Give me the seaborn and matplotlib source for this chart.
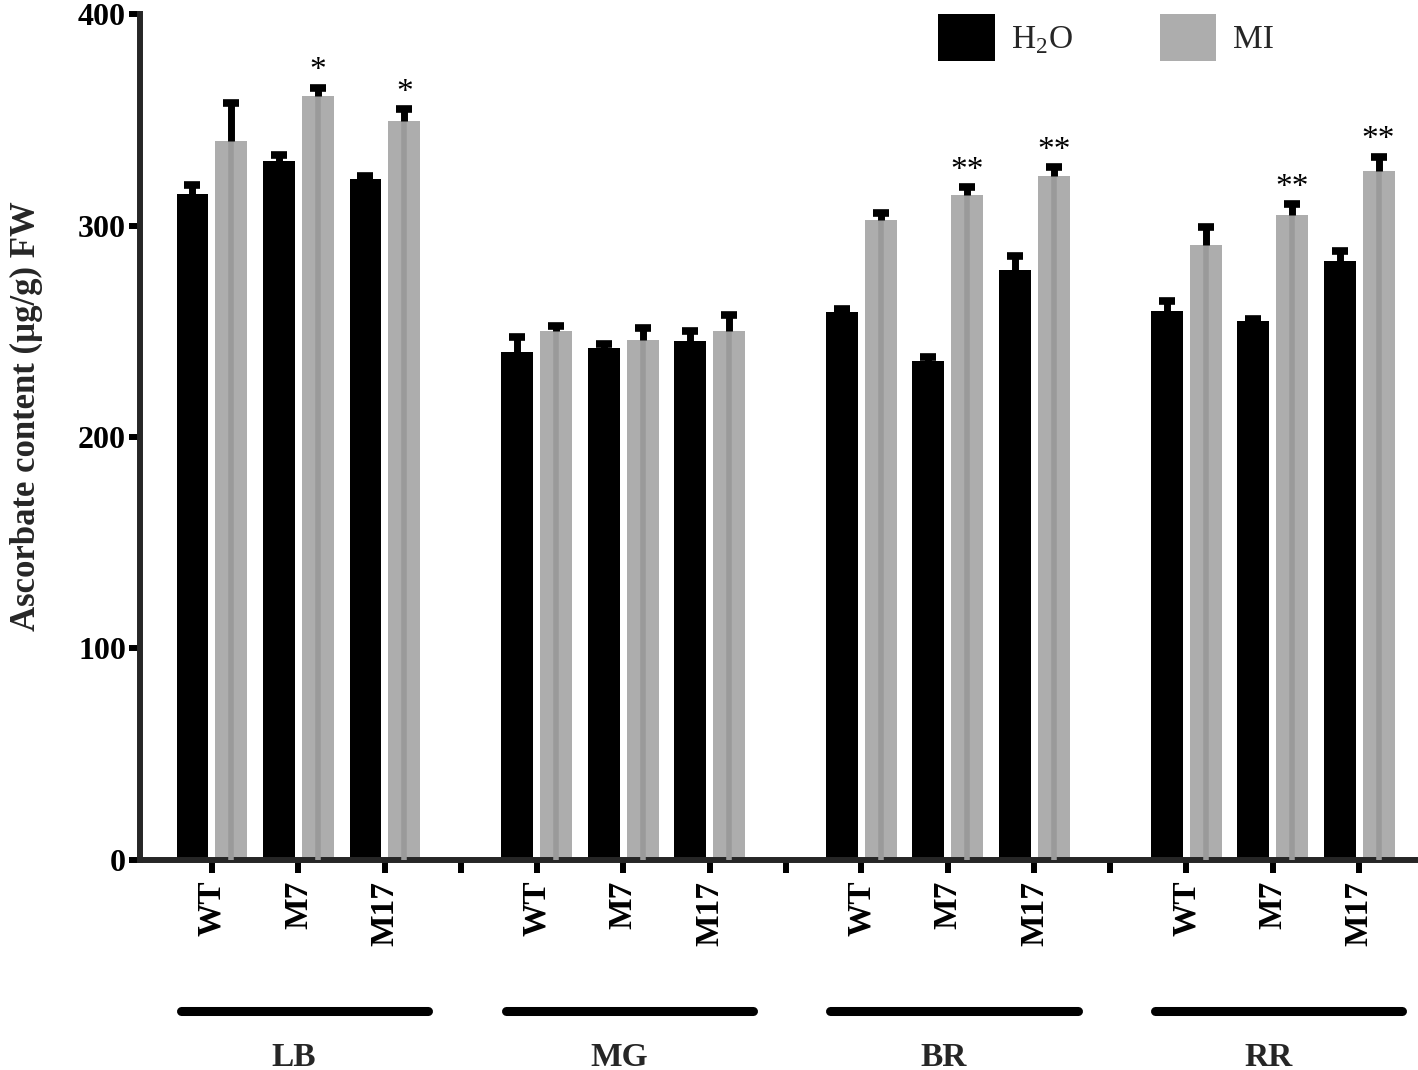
import numpy as np
import pandas as pd
import matplotlib
matplotlib.use("Agg")
import matplotlib.pyplot as plt
import seaborn as sns
from matplotlib.patches import Patch

# ------------------ DATA ------------------
stages = ["LB", "MG", "BR", "RR"]
lines = ["WT", "M7", "M17"]
treatments = ["H2O", "MI"]

h2o_mean = [315, 330.5, 322, 240, 242, 245.5, 259, 236, 279, 259.5, 255, 283]
h2o_err = [4, 3, 1.5, 7.5, 2, 4.5, 1.5, 2, 6.5, 5, 1, 5]
mi_mean = [340, 361, 349.5, 250, 246, 250, 302.5, 314.5, 323.5, 291, 305, 326]
mi_err = [18, 4, 5.5, 2.5, 5.5, 7.5, 3.5, 3.5, 4, 8.5, 5, 6.5]
stars = ["", "*", "*", "", "", "", "", "**", "**", "", "**", "**"]

y_ticks = [0, 100, 200, 300, 400]

# ------------------ LAYOUT ------------------
GROUP_STEP = 3.754          # distance between stage groups (in genotype steps)
pos = np.array([g * GROUP_STEP + i for g in range(len(stages)) for i in range(len(lines))])
seps = [(g + 1) * GROUP_STEP - (GROUP_STEP - 2) / 2 for g in range(len(stages) - 1)]
OFF = 0.225

df = pd.DataFrame({
    "x": np.concatenate([pos, pos]),
    "value": h2o_mean + mi_mean,
    "treatment": ["H2O"] * len(pos) + ["MI"] * len(pos),
})

sns.set_theme(style="ticks")
plt.rcParams["font.family"] = ["Liberation Serif", "DejaVu Serif"]
plt.rcParams["mathtext.fontset"] = "custom"
plt.rcParams["mathtext.rm"] = "Liberation Serif"

BLACK = "#000000"
GRAY = "#adadad"
STRIPE = "#9a9a9a"

fig = plt.figure(figsize=(14.18, 10.70), dpi=100)
ax = fig.add_axes([0.0987, 0.1963, 0.8993, 0.7906])

sns.barplot(data=df, x="x", y="value", hue="treatment", hue_order=treatments,
            native_scale=True, dodge=True, width=0.9, gap=0.18,
            palette={"H2O": BLACK, "MI": GRAY}, saturation=1,
            errorbar=None, legend=False, linewidth=0, ax=ax)

# darker stripe in the middle of the MI bars
ax.vlines(pos + OFF, 0, mi_mean, color=STRIPE, lw=4, zorder=3)

# upper error bars only
zeros = np.zeros(len(pos))
for xs, m, e in [(pos - OFF, h2o_mean, h2o_err), (pos + OFF, mi_mean, mi_err)]:
    _, caps, _ = ax.errorbar(xs, m, yerr=[zeros, e], fmt="none", ecolor="black",
                             elinewidth=5, capsize=6, capthick=5.5, zorder=4)
    caps[0].set_visible(False)   # no cap at the bar top

# significance stars
for x, m, e, s in zip(pos + OFF, mi_mean, mi_err, stars):
    if s:
        ax.text(x, m + e + 8, s, ha="center", va="center", fontsize=24, color="black")

# ------------------ AXES ------------------
ax.set_ylim(0, 400)
ax.set_xlim(-0.832, 13.91)
ax.set_yticks(y_ticks)
ax.set_yticklabels([str(t) for t in y_ticks], fontsize=23, fontweight="bold")

xt = list(pos) + seps
xl = lines * len(stages) + [""] * len(seps)
ax.set_xticks(xt)
ax.set_xticklabels(xl, rotation=90, fontsize=24, fontweight="bold", va="top")
ax.set_xlabel("")
ax.set_ylabel("Ascorbate content (µg/g) FW", fontsize=25, fontweight="bold")
ax.yaxis.set_label_coords(-0.076, 0.525)

for s in ["top", "right"]:
    ax.spines[s].set_visible(False)
for s in ["left", "bottom"]:
    ax.spines[s].set_linewidth(4.3)
ax.tick_params(axis="y", length=8, width=4.3, pad=2, colors="black")
ax.tick_params(axis="x", length=9, width=4.3, pad=6, colors="black")
ax.grid(False)

# stage bars + labels under the axis
trans = ax.get_xaxis_transform()
for g, st in enumerate(stages):
    x0 = pos[g * 3]
    ax.plot([x0 - 0.36, x0 + 2.5], [-0.178, -0.178], color="black", lw=6.5,
            solid_capstyle="round", transform=trans, clip_on=False)
    ax.text(x0 + 0.95, -0.233, st, transform=trans, ha="center", va="center",
            fontsize=24, fontweight="bold")

# legend
handles = [Patch(facecolor=BLACK, edgecolor="none"), Patch(facecolor=GRAY, edgecolor="none")]
fig.legend(handles, [r"H$_\mathregular{2}$O", "MI"], loc="upper left",
           bbox_to_anchor=(0.645, 1.009), ncol=2, frameon=False, fontsize=24,
           handlelength=1.7, handleheight=1.8, handletextpad=0.5,
           columnspacing=2.6, borderpad=0.2)

fig.savefig("out.png", dpi=100)
